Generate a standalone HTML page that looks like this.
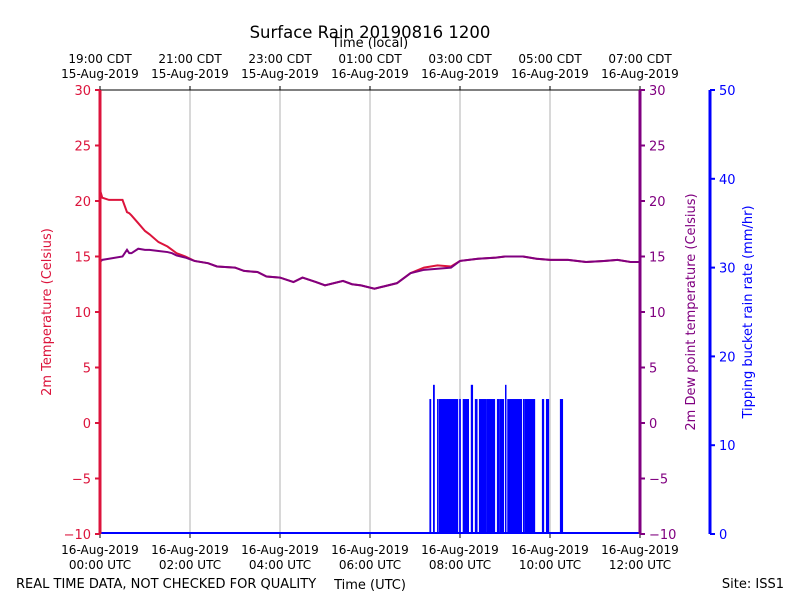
<!DOCTYPE html>
<html><head><meta charset="utf-8"><style>
body{margin:0;background:#fff}
svg text{font-family:"DejaVu Sans","Liberation Sans",sans-serif}
</style></head><body>
<svg id="chart" width="800" height="600" xmlns="http://www.w3.org/2000/svg">
<rect width="800" height="600" fill="#fff"/>
<text x="370" y="38" font-size="16.5" text-anchor="middle">Surface Rain 20190816 1200</text>
<text x="370" y="47" font-size="13" text-anchor="middle">Time (local)</text>
<text x="370" y="589" font-size="13" text-anchor="middle">Time (UTC)</text>
<text x="16" y="588" font-size="13">REAL TIME DATA, NOT CHECKED FOR QUALITY</text>
<text x="784" y="588" font-size="13" text-anchor="end">Site: ISS1</text>
<text transform="translate(51,312) rotate(-90)" font-size="13" fill="#dc143c" text-anchor="middle">2m Temperature (Celsius)</text>
<text transform="translate(695,312) rotate(-90)" font-size="13" fill="#800080" text-anchor="middle">2m Dew point temperature (Celsius)</text>
<text transform="translate(752,312) rotate(-90)" font-size="13" fill="#0000ff" text-anchor="middle">Tipping bucket rain rate (mm/hr)</text>
<g id="grid"></g><g id="rain"></g><g id="lines"></g><g id="axes"></g>
</svg>
<script>
const hours=[0,0.05,0.2,0.5,0.6,0.65,0.7,0.85,1.0,1.1,1.3,1.5,1.6,1.7,1.9,2.1,2.4,2.6,3.0,3.2,3.5,3.7,4.0,4.3,4.5,4.8,5.0,5.4,5.6,5.8,6.1,6.3,6.6,6.9,7.2,7.5,7.8,8.0,8.4,8.8,9.0,9.4,9.7,10.0,10.4,10.8,11.2,11.5,11.8,12.0];
const temperature=[21.0,20.3,20.1,20.1,19.0,18.9,18.7,18.0,17.3,17.0,16.3,15.9,15.6,15.3,15.0,14.6,14.4,14.1,14.0,13.7,13.6,13.2,13.1,12.7,13.1,12.7,12.4,12.8,12.5,12.4,12.1,12.3,12.6,13.5,14.0,14.2,14.1,14.6,14.8,14.9,15.0,15.0,14.8,14.7,14.7,14.5,14.6,14.7,14.5,14.5];
const dewpoint=[14.5,14.7,14.8,15.0,15.6,15.3,15.3,15.7,15.6,15.6,15.5,15.4,15.3,15.1,14.9,14.6,14.4,14.1,14.0,13.7,13.6,13.2,13.1,12.7,13.1,12.7,12.4,12.8,12.5,12.4,12.1,12.3,12.6,13.5,13.8,13.9,14.0,14.6,14.8,14.9,15.0,15.0,14.8,14.7,14.7,14.5,14.6,14.7,14.5,14.5];
const rainStart=[7.32,7.4,7.49,7.53,7.98,8.06,8.24,8.33,8.42,8.58,8.82,8.87,9.0,9.05,9.4,9.44,9.82,9.91,10.22];
const rainEnd=[7.36,7.44,7.51,7.96,8.02,8.2,8.29,8.39,8.58,8.78,8.87,8.98,9.03,9.38,9.44,9.67,9.87,9.98,10.29];
const rainRate=[15.2,16.8,15.2,15.2,15.2,15.2,16.8,15.2,15.2,15.2,15.2,15.2,16.8,15.2,15.2,15.2,15.2,15.2,15.2];
const tempTicks=[-10,-5,0,5,10,15,20,25,30];
const rainTicks=[0,10,20,30,40,50];
const utcLabels=["00:00 UTC","02:00 UTC","04:00 UTC","06:00 UTC","08:00 UTC","10:00 UTC","12:00 UTC"];
const utcDates=["16-Aug-2019","16-Aug-2019","16-Aug-2019","16-Aug-2019","16-Aug-2019","16-Aug-2019","16-Aug-2019"];
const localLabels=["19:00 CDT","21:00 CDT","23:00 CDT","01:00 CDT","03:00 CDT","05:00 CDT","07:00 CDT"];
const localDates=["15-Aug-2019","15-Aug-2019","15-Aug-2019","16-Aug-2019","16-Aug-2019","16-Aug-2019","16-Aug-2019"];
const tickHours=[0,2,4,6,8,10,12];

const X0=100,X1=640,Y0=534,Y1=90;
const xs=h=>X0+(X1-X0)*h/12;
const yT=v=>Y0-(Y0-Y1)*(v+10)/40;
const yR=v=>Y0-(Y0-Y1)*v/50;
const NS="http://www.w3.org/2000/svg";
function mk(tag,attrs,parent,txt){const e=document.createElementNS(NS,tag);for(const k in attrs)e.setAttribute(k,attrs[k]);if(txt!==undefined)e.textContent=txt;document.getElementById(parent).appendChild(e);return e;}

tickHours.forEach((h,i)=>{
  const g=mk('line',{x1:xs(h),x2:xs(h),y1:Y1,y2:Y0,stroke:'#b0b0b0','stroke-width':1},'grid');
  
  
  const t1=mk('text',{x:xs(h),y:554,'font-size':12,'text-anchor':'middle'},'axes',utcDates[i]);
  
  
  const t2=mk('text',{x:xs(h),y:569,'font-size':12,'text-anchor':'middle'},'axes',utcLabels[i]);
  
  
  const t3=mk('text',{x:xs(h),y:63,'font-size':12,'text-anchor':'middle'},'axes',localLabels[i]);
  
  
  const t4=mk('text',{x:xs(h),y:78,'font-size':12,'text-anchor':'middle'},'axes',localDates[i]);
  
  
  mk('line',{x1:xs(h),x2:xs(h),y1:Y0,y2:Y0+4,stroke:'#000'},'axes');
  mk('line',{x1:xs(h),x2:xs(h),y1:Y1,y2:Y1-4,stroke:'#000'},'axes');
});

rainStart.forEach((s,i)=>{
  const x1=xs(s),x2=xs(rainEnd[i]);
  const r=mk('rect',{x:x1,y:yR(rainRate[i]),width:Math.max(x2-x1,1.5),height:Y0-yR(rainRate[i]),fill:'#0000ff'},'rain');
  
  
});
const base=mk('line',{x1:X0,x2:X1,y1:Y0-1,y2:Y0-1,stroke:'#0000ff','stroke-width':2},'rain');



const tp=mk('polyline',{points:hours.map((h,i)=>xs(h)+','+yT(temperature[i])).join(' '),fill:'none',stroke:'#dc143c','stroke-width':2},'lines');


const dp=mk('polyline',{points:hours.map((h,i)=>xs(h)+','+yT(dewpoint[i])).join(' '),fill:'none',stroke:'#800080','stroke-width':2},'lines');



mk('line',{x1:X0,x2:X1,y1:Y1,y2:Y1,stroke:'#000','stroke-width':1},'axes');
const la=mk('line',{x1:X0,x2:X0,y1:Y1,y2:Y0,stroke:'#dc143c','stroke-width':3},'axes');


const ra=mk('line',{x1:X1,x2:X1,y1:Y1,y2:Y0,stroke:'#800080','stroke-width':3},'axes');


const rn=mk('line',{x1:710,x2:710,y1:Y1,y2:Y0,stroke:'#0000ff','stroke-width':3},'axes');


tempTicks.forEach(v=>{
  const y=yT(v);const lab=v<0?'\u2212'+(-v):String(v);
  mk('line',{x1:X0-5,x2:X0,y1:y,y2:y,stroke:'#dc143c','stroke-width':2},'axes');
  const a=mk('text',{x:X0-9,y:y+5,'font-size':13,'text-anchor':'end',fill:'#dc143c'},'axes',lab);
  
  
  mk('line',{x1:X1,x2:X1+5,y1:y,y2:y,stroke:'#800080','stroke-width':2},'axes');
  const b=mk('text',{x:X1+9,y:y+5,'font-size':13,fill:'#800080'},'axes',lab);
  
  
});
rainTicks.forEach(v=>{
  const y=yR(v);
  mk('line',{x1:710,x2:715,y1:y,y2:y,stroke:'#0000ff','stroke-width':2},'axes');
  const c=mk('text',{x:719,y:y+5,'font-size':13,fill:'#0000ff'},'axes',String(v));
  
  
});
</script>
</body></html>
